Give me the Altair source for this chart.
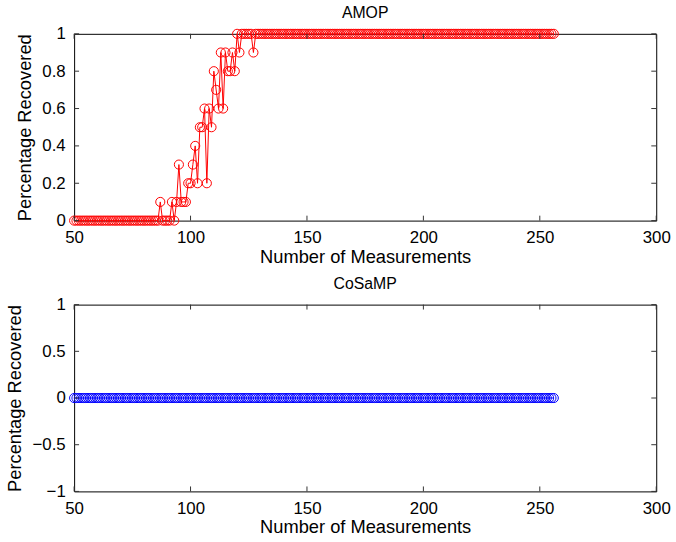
import altair as alt
import pandas as pd

# ---- data ----
measurements = list(range(50, 257))  # 50 .. 256, step 1

amop_low = [0.0] * 36  # m = 50 .. 85
amop_transition = [  # m = 86 .. 127
    0.0, 0.1, 0.0, 0.0, 0.0, 0.0, 0.1, 0.0, 0.1, 0.3,
    0.1, 0.1, 0.1, 0.2, 0.2, 0.3, 0.4, 0.2, 0.5, 0.5,
    0.6, 0.2, 0.6, 0.5, 0.8, 0.7, 0.6, 0.9, 0.6, 0.9,
    0.8, 0.8, 0.9, 0.8, 1.0, 0.9, 1.0, 1.0, 1.0, 1.0,
    1.0, 0.9,
]
amop_high = [1.0] * 129  # m = 128 .. 256
amop_values = amop_low + amop_transition + amop_high

cosamp_values = [0.0] * 207  # m = 50 .. 256, flat at zero

x_ticks = [50, 100, 150, 200, 250, 300]
amop_y_ticks = [0, 0.2, 0.4, 0.6, 0.8, 1]
cosamp_y_ticks = [-1, -0.5, 0, 0.5, 1]

W, H = 589, 189
FONT = "Liberation Sans"


def panel(values, color, yticks, ydomain, title):
    df = pd.DataFrame({"m": measurements, "v": values})
    xs = alt.Scale(domain=[50, 300], nice=False, zero=False)
    ys = alt.Scale(domain=ydomain, nice=False, zero=False)
    xaxis = alt.Axis(values=x_ticks, title="Number of Measurements",
                     format="~r", labelFlush=False, labelOverlap=False,
                     labelPadding=9, titlePadding=2)
    yaxis = alt.Axis(values=yticks, title="Percentage Recovered",
                     format="~r", labelFlush=False, labelOverlap=False, labelSeparation=0,
                     labelPadding=9, titlePadding=8)
    xenc = alt.X("m:Q", scale=xs, axis=xaxis)
    yenc = alt.Y("v:Q", scale=ys, axis=yaxis)
    line = alt.Chart(df).mark_line(color=color, strokeWidth=1).encode(x=xenc, y=yenc)
    pts = alt.Chart(df).mark_point(shape="circle", filled=False, color=color, size=85,
                                   strokeWidth=1, opacity=1).encode(x=xenc, y=yenc)
    xt = pd.DataFrame({"m": x_ticks})
    yt = pd.DataFrame({"v": yticks})
    tb = alt.Chart(xt).mark_rule(color="#333333").encode(x=xenc, y=alt.value(H), y2=alt.value(H - 5))
    tt = alt.Chart(xt).mark_rule(color="#333333").encode(x=xenc, y=alt.value(0), y2=alt.value(5))
    tl = alt.Chart(yt).mark_rule(color="#333333").encode(y=yenc, x=alt.value(0), x2=alt.value(5))
    tr = alt.Chart(yt).mark_rule(color="#333333").encode(y=yenc, x=alt.value(W), x2=alt.value(W - 5))
    return alt.layer(line, pts, tb, tt, tl, tr).properties(
        width=W, height=H,
        title=alt.TitleParams(title, fontSize=16, fontWeight="normal", font=FONT, color="black", offset=4),
    )


top = panel(amop_values, "#FF0000", amop_y_ticks, [0, 1], "AMOP")
bottom = panel(cosamp_values, "#0000FF", cosamp_y_ticks, [-1, 1], "CoSaMP")

chart = alt.vconcat(top, bottom, spacing=9).properties(
    padding={"left": 4, "top": 1, "right": 5, "bottom": 5},
    background="white",
).configure_view(stroke="black", strokeWidth=1).configure_axis(
    labelFont=FONT, titleFont=FONT, labelFontSize=17, titleFontSize=18.5,
    titleFontWeight="normal", labelColor="black", titleColor="black",
    domain=False, ticks=False, grid=False, labelOverlap=False, labelFlush=False,
).configure_concat(spacing=9)

chart.save("out.html", embed_options={"renderer": "svg", "actions": False})
